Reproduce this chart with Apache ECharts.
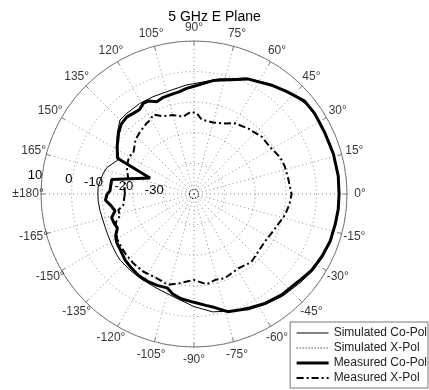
<!DOCTYPE html>
<html>
<head>
<meta charset="utf-8">
<script src="https://cdn.jsdelivr.net/npm/echarts@6/dist/echarts.min.js"></script>
<style>
html, body { margin: 0; padding: 0; background: #fff; }
#chart { width: 429px; height: 390px; }
</style>
</head>
<body>
<div id="chart"></div>
<script>
const titleText = '5 GHz E Plane';
const seriesNames = ['Simulated Co-Pol', 'Simulated X-Pol', 'Measured Co-Pol', 'Measured X-Pol'];

// Angle ticks (deg, counter-clockwise from 0) and their labels
const angleTicks = [0, 15, 30, 45, 60, 75, 90, 105, 120, 135, 150, 165,
  180, 195, 210, 225, 240, 255, 270, 285, 300, 315, 330, 345];
const angleLabels = ['0°', '15°', '30°', '45°', '60°', '75°', '90°', '105°', '120°', '135°', '150°', '165°',
  '±180°', '-165°', '-150°', '-135°', '-120°', '-105°', '-90°', '-75°', '-60°', '-45°', '-30°', '-15°'];
// Gain rings (dB) that carry a label
const radiusLabelValues = [-30, -20, -10, 0, 10];

// Simulated co-polar pattern: angle (deg) / gain (dB)
const simCoAngles = [-180, -176, -170, -166, -160, -154, -148, -142, -138, -130, -122, -112, -101, -90, -81, -73,
  -65, -57, -49, -40, -33, -26, -19, -10, 0, 10, 20, 30, 38, 45, 54, 60, 66, 72, 78, 85, 94, 105, 113, 121, 130,
  135, 141, 148, 155, 163, 167, 172, 176, 180];
const simCoGain = [-8.6, -8.6, -8.8, -9.0, -9.0, -8.8, -8.4, -7.9, -7.6, -7.5, -7.3, -6.9, -5.7, -3.2, -1.0, 0.0,
  1.8, 3.0, 4.2, 5.2, 6.2, 6.9, 7.3, 7.5, 7.6, 7.6, 7.5, 7.3, 7.0, 6.0, 4.0, 2.6, 1.5, -0.4, -1.6, -3.2, -4.3, -5.4,
  -5.5, -5.5, -5.7, -5.8, -7.8, -10.2, -13.0, -10.3, -9.6, -9.0, -8.6, -8.6];

// Simulated cross-polar pattern
const simXAngles = [-180, -150, -120, -90, -60, -30, 0, 30, 60, 90, 120, 150, 180];
const simXGain = [-38.4, -38.7, -38.2, -38.6, -38.9, -38.3, -38.5, -38.8, -38.2, -38.4, -38.7, -38.3, -38.4];

// Measured co-polar pattern
const measCoAngles = [-180, -176, -172, -168, -164, -160, -156, -152, -148, -144, -140, -136, -130, -124, -118,
  -112, -106, -102, -97, -90, -84, -80, -74, -68, -64, -57, -49, -40, -33, -26, -19, -12, -6, 0, 7, 16, 25, 30,
  34, 40, 45, 48, 54, 60, 65, 72, 77, 80, 85, 90, 94, 98, 104, 108, 112, 116, 119, 123, 127, 131, 136, 141, 148,
  155, 160, 170, 178, 180];
const measCoGain = [-11.6, -11.0, -12.6, -13.6, -12.0, -12.2, -12.6, -11.0, -10.2, -9.9, -9.4, -8.8, -8.3, -7.8,
  -7.7, -7.8, -8.1, -6.6, -5.5, -4.6, -3.4, -2.4, 0.0, 0.8, 1.4, 2.6, 3.7, 4.5, 5.8, 6.5, 7.1, 7.2, 7.4, 7.4, 7.5,
  7.4, 7.2, 7.2, 7.4, 7.2, 5.8, 5.1, 3.8, 2.3, 1.5, -0.7, -1.8, -2.3, -3.7, -4.8, -5.4, -6.2, -6.7, -6.9, -7.5,
  -6.2, -6.0, -7.2, -7.0, -6.6, -7.0, -8.3, -10.4, -12.4, -24.7, -12.7, -12.5, -11.6];

// Measured cross-polar pattern
const measXAngles = [-180, -175, -171, -168, -164, -160, -154, -150, -144, -139, -131, -123, -114, -106, -99, -90,
  -82, -76, -70, -59, -50, -42, -34, -23, -13, -6, 0, 9, 17, 23, 32, 40, 50, 60, 67, 75, 84, 88, 92, 98, 105,
  112, 117, 121, 124, 131, 137, 146, 150, 158, 166, 172, 180];
const measXGain = [-17.4, -17.0, -16.6, -14.7, -14.9, -12.8, -12.0, -10.9, -10.6, -10.3, -9.9, -9.7, -9.9, -9.1,
  -10.5, -11.9, -10.2, -11.1, -10.7, -11.7, -10.9, -11.8, -12.1, -11.2, -9.5, -8.6, -8.1, -8.8, -9.0, -9.4, -10.8,
  -11.0, -12.2, -13.3, -15.0, -15.8, -15.6, -13.6, -13.1, -14.5, -13.3, -12.6, -10.9, -11.9, -12.2, -13.1, -13.9,
  -16.1, -15.5, -16.3, -17.8, -17.0, -17.4];

// Polar data is [radius, angle]; angles are mapped into 0..360
function toPolar(angles, gains) {
  return angles.map((a, i) => [gains[i], a === 180 ? 180 : (a + 360) % 360]);
}

const font = 'Liberation Sans, Arial, sans-serif';
const gridColor = '#8a8a8a';
const CX = 194, CY = 194, R = 153;

const chart = echarts.init(document.getElementById('chart'), null, { renderer: 'canvas' });

function lineSeries(index, angles, gains, lineStyle, z) {
  return {
    name: seriesNames[index],
    type: 'line',
    coordinateSystem: 'polar',
    polarIndex: 0,
    symbol: 'none',
    data: toPolar(angles, gains),
    lineStyle: Object.assign({ color: '#000' }, lineStyle),
    itemStyle: { color: '#000' },
    z: z
  };
}

chart.setOption({
  animation: false,
  backgroundColor: '#fff',
  title: {
    text: titleText,
    left: 'center',
    top: 5,
    textStyle: { fontFamily: font, fontSize: 14, fontWeight: 'normal', color: '#000' }
  },
  legend: {
    data: seriesNames,
    orient: 'vertical',
    right: 1,
    top: 322,
    padding: [5, 1, 4, 5],
    itemGap: 3,
    itemWidth: 32,
    itemHeight: 12,
    borderColor: '#777',
    borderWidth: 1,
    borderRadius: 0,
    backgroundColor: '#fff',
    itemStyle: { opacity: 0 },
    lineStyle: { width: 'inherit' },
    textStyle: { fontFamily: font, fontSize: 12, color: '#222' }
  },
  polar: [
    { center: [CX, CY], radius: R },
    { center: [CX, CY], radius: R },
    // ring on which the angle labels are centred
    { center: [CX, CY], radius: R + 13 }
  ],
  angleAxis: [
    {
      polarIndex: 0,
      type: 'value',
      min: 0,
      max: 360,
      interval: 15,
      startAngle: 0,
      clockwise: false,
      axisLine: { show: true, lineStyle: { color: '#777', width: 1 } },
      axisTick: { show: true, inside: true, length: 4, lineStyle: { color: '#777' } },
      axisLabel: { show: false },
      splitLine: { show: true, lineStyle: { color: gridColor, width: 1, type: [1, 3] } }
    },
    {
      polarIndex: 1,
      type: 'value',
      min: 0,
      max: 360,
      startAngle: 173,
      clockwise: false,
      show: false
    },
    {
      polarIndex: 2,
      type: 'value',
      min: 0,
      max: 360,
      startAngle: 0,
      clockwise: false,
      show: false
    }
  ],
  radiusAxis: [
    {
      polarIndex: 0,
      type: 'value',
      min: -40,
      max: 10,
      interval: 10,
      axisLine: { show: false },
      axisTick: { show: false },
      axisLabel: { show: false },
      splitLine: { show: true, lineStyle: { color: gridColor, width: 1, type: [1, 3] } }
    },
    {
      polarIndex: 1,
      type: 'value',
      min: -40,
      max: 10,
      interval: 10,
      axisLine: { show: false },
      axisTick: { show: false },
      splitLine: { show: false },
      axisLabel: {
        show: true,
        margin: 0,
        align: 'right',
        verticalAlign: 'middle',
        fontFamily: font,
        fontSize: 13,
        color: '#000',
        formatter: v => (radiusLabelValues.indexOf(v) >= 0 ? String(v) : '')
      }
    },
    {
      polarIndex: 2,
      type: 'value',
      min: 0,
      max: 1,
      show: false
    }
  ],
  series: [
    lineSeries(0, simCoAngles, simCoGain, { width: 1 }, 3),
    lineSeries(1, simXAngles, simXGain, { width: 1, type: [1, 2] }, 3),
    lineSeries(2, measCoAngles, measCoGain, { width: 3 }, 4),
    lineSeries(3, measXAngles, measXGain, { width: 2, type: [7, 3, 2, 3] }, 4),
    {
      name: 'angleTickLabels',
      type: 'scatter',
      coordinateSystem: 'polar',
      polarIndex: 2,
      silent: true,
      symbolSize: 1,
      itemStyle: { color: 'rgba(0,0,0,0)' },
      data: angleTicks.map(a => [1, a]),
      label: {
        show: true,
        position: 'inside',
        fontFamily: font,
        fontSize: 12,
        color: '#000',
        formatter: p => angleLabels[p.dataIndex]
      },
      z: 2
    }
  ]
});
</script>
</body>
</html>
